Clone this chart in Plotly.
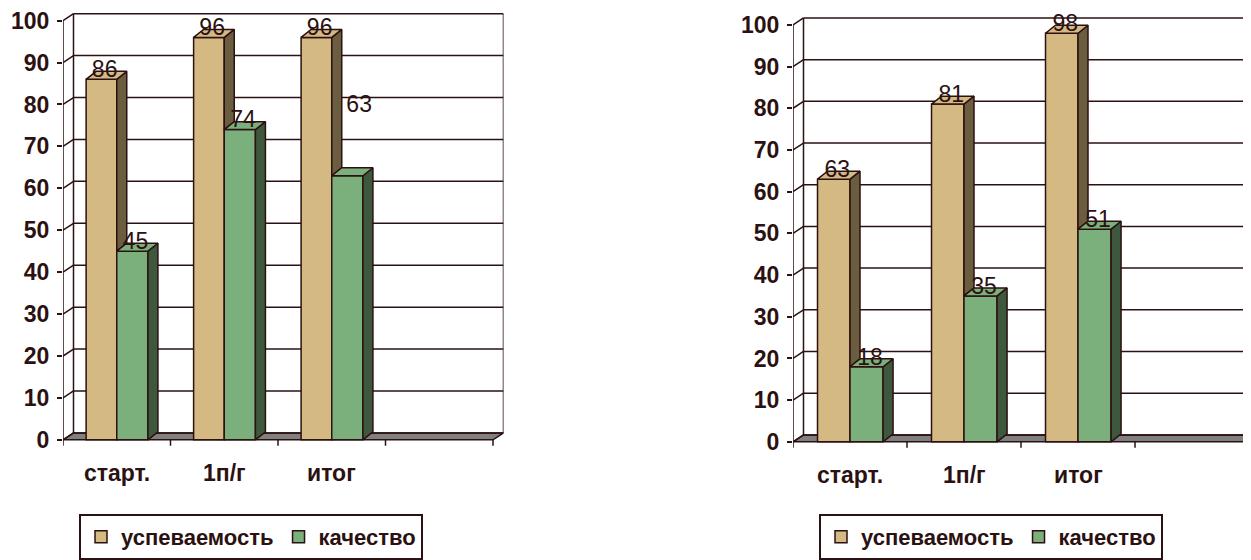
import plotly.graph_objects as go

# ---------------- data ----------------
categories = ["старт.", "1п/г", "итог", ""]
series_names = ["успеваемость", "качество"]
left_uspev = [86, 96, 96]
left_kach = [45, 74, 63]
right_uspev = [63, 81, 98]
right_kach = [18, 35, 51]
y_ticks = list(range(0, 101, 10))

# ---------------- style ----------------
PAGE_W, PAGE_H = 1251, 560
BODY = 8                      # default html body margin
FIG_W, FIG_H = PAGE_W - BODY, PAGE_H - BODY
DARK = "#2b1111"
TAN = "#D5B983"
TAN_SIDE = "#6B5D3F"
GREEN = "#7BAF7B"
GREEN_SIDE = "#3E583E"
FLOOR = "#808080"
FONT = "Liberation Sans, Arial, sans-serif"


def px_x(p):
    return (p - BODY) / FIG_W


def px_y(p):
    return 1 - (p - BODY) / FIG_H


charts = [
    dict(vals=(left_uspev, left_kach), x0=63, w=107.5, y0=443, k=4.223,
         ax="", legend="legend", leg_x=79, shift={(1, 2): (0.08, 14.7)}),
    dict(vals=(right_uspev, right_kach), x0=793, w=114, y0=445, k=4.2,
         ax="2", legend="legend2", leg_x=819, shift={}),
]

fig = go.Figure()
layout_axes = {}
shapes = []
annotations = []

WALL_DX, WALL_DY = 10.5, 7.0   # px
BAR_DX, BAR_DY = 10.0, 8.0     # px
TAN_OFF, TAN_W = -0.285, 0.285
GRN_OFF, GRN_W = 0.0, 0.29
ncat = len(categories)

for c in charts:
    ax = c["ax"]
    xr, yr = "x" + ax, "y" + ax
    w, k = c["w"], c["k"]
    dxw, dyw = WALL_DX / w, WALL_DY / k
    dxb, dyb = BAR_DX / w, BAR_DY / k

    right_px = min(PAGE_W, c["x0"] + ncat * w + WALL_DX)
    x_dom = [px_x(c["x0"]), px_x(right_px)]
    x_rng = [-0.5, -0.5 + (right_px - c["x0"]) / w]
    y_rng = [-3, 103]
    bot_px = c["y0"] - y_rng[0] * k
    top_px = c["y0"] - y_rng[1] * k
    y_dom = [px_y(bot_px), px_y(top_px)]

    layout_axes["xaxis" + ax] = dict(domain=x_dom, range=x_rng, visible=False,
                                     anchor=yr, fixedrange=True)
    layout_axes["yaxis" + ax] = dict(
        domain=y_dom, range=y_rng, anchor=xr, tickvals=y_ticks,
        ticks="outside", ticklen=5, tickwidth=1.5, tickcolor=DARK,
        ticklabeloverflow="allow", ticklabelstandoff=3,
        showgrid=False, zeroline=False, showline=False, fixedrange=True,
        tickfont=dict(family=FONT, size=23, color=DARK, weight="bold"))

    ytop = y_ticks[-1]
    xl, xrgt = -0.5, -0.5 + ncat * 1.0
    line = dict(color=DARK, width=1.5)
    # floor
    shapes.append(dict(type="path", xref=xr, yref=yr, layer="below",
                       path=f"M{xl},0 L{xrgt},0 L{xrgt+dxw},{dyw} L{xl+dxw},{dyw} Z",
                       fillcolor=FLOOR, line=line))
    # back wall gridlines & side wall diagonals
    for v in y_ticks:
        shapes.append(dict(type="line", xref=xr, yref=yr, layer="below",
                           x0=xl + dxw, x1=xrgt + dxw, y0=v + dyw, y1=v + dyw, line=line))
        shapes.append(dict(type="line", xref=xr, yref=yr, layer="below",
                           x0=xl, x1=xl + dxw, y0=v, y1=v + dyw, line=line))
    # wall verticals
    for xx, y_a, y_b in [(xl, 0, ytop), (xl + dxw, dyw, ytop + dyw), (xrgt + dxw, dyw, ytop + dyw)]:
        shapes.append(dict(type="line", xref=xr, yref=yr, layer="below",
                           x0=xx, x1=xx, y0=y_a, y1=y_b, line=line))
    # category ticks
    for i in range(ncat + 1):
        bx = -0.5 + i
        shapes.append(dict(type="line", xref=xr, yref=yr,
                           x0=bx, x1=bx, y0=0, y1=-6 / k, line=line))
    # category labels (paper y, below the axis)
    lab_y = px_y(c["y0"] + 33)
    for i, cat in enumerate(categories):
        if cat:
            annotations.append(dict(xref=xr, yref="paper", x=i, y=lab_y, text=cat,
                                    showarrow=False, yanchor="middle",
                                    font=dict(family=FONT, size=23, color=DARK, weight="bold")))

    uspev, kach = c["vals"]
    xs = list(range(len(uspev)))
    fig.add_trace(go.Bar(x=xs, y=uspev, width=TAN_W, offset=TAN_OFF, name=series_names[0],
                         marker=dict(color=TAN, line=dict(color=DARK, width=1.5)),
                         xaxis=xr, yaxis=yr, legend=c["legend"], hoverinfo="skip"))
    fig.add_trace(go.Bar(x=xs, y=kach, width=GRN_W, offset=GRN_OFF, name=series_names[1],
                         marker=dict(color=GREEN, line=dict(color=DARK, width=1.5)),
                         xaxis=xr, yaxis=yr, legend=c["legend"], hoverinfo="skip"))

    def faces(vals, off, bw, lows):
        tx, ty, sx, sy = [], [], [], []
        for i, v in enumerate(vals):
            a, b = i + off, i + off + bw
            tx += [a, b, b + dxb, a + dxb, a, None]
            ty += [v, v, v + dyb, v + dyb, v, None]
            lo = min(lows[i], v)
            sx += [b, b, b + dxb, b + dxb, b, None]
            sy += [lo, v, v + dyb, lo + dyb, lo, None]
        return tx, ty, sx, sy

    ttx, tty, tsx, tsy = faces(uspev, TAN_OFF, TAN_W, kach)
    gtx, gty, gsx, gsy = faces(kach, GRN_OFF, GRN_W, [0] * len(kach))
    for fx, fy, col in [(tsx, tsy, TAN_SIDE), (ttx, tty, TAN),
                        (gsx, gsy, GREEN_SIDE), (gtx, gty, GREEN)]:
        fig.add_trace(go.Scatter(x=fx, y=fy, mode="lines", fill="toself", fillcolor=col,
                                 line=dict(color=DARK, width=1.5), xaxis=xr, yaxis=yr,
                                 showlegend=False, hoverinfo="skip"))

    # value labels
    lx, ly, lt = [], [], []
    for s, (vals, off, bw) in enumerate([(uspev, TAN_OFF, TAN_W), (kach, GRN_OFF, GRN_W)]):
        for i, v in enumerate(vals):
            sh = c["shift"].get((s, i), (0, 0))
            lx.append(i + off + bw / 2 + 0.03 + sh[0])
            ly.append(v + 1.9 + sh[1])
            lt.append(str(v))
    fig.add_trace(go.Scatter(x=lx, y=ly, text=lt, mode="text", textposition="middle center",
                             textfont=dict(family=FONT, size=23, color=DARK),
                             xaxis=xr, yaxis=yr, showlegend=False, hoverinfo="skip",
                             cliponaxis=False))

leg_common = dict(orientation="h", xanchor="left", yanchor="top", y=px_y(518),
                  bgcolor="white", bordercolor=DARK, borderwidth=2,
                  font=dict(family=FONT, size=22, color=DARK, weight="bold"),
                  itemclick=False, itemdoubleclick=False, traceorder="normal")

fig.update_layout(
    width=FIG_W, height=FIG_H, margin=dict(l=0, r=0, t=0, b=0),
    paper_bgcolor="white", plot_bgcolor="rgba(0,0,0,0)",
    barmode="overlay", showlegend=True,
    legend=dict(x=px_x(charts[0]["leg_x"]), **leg_common),
    legend2=dict(x=px_x(charts[1]["leg_x"]), **leg_common),
    shapes=shapes, annotations=annotations,
    **layout_axes,
)

fig.write_html("out.html")
